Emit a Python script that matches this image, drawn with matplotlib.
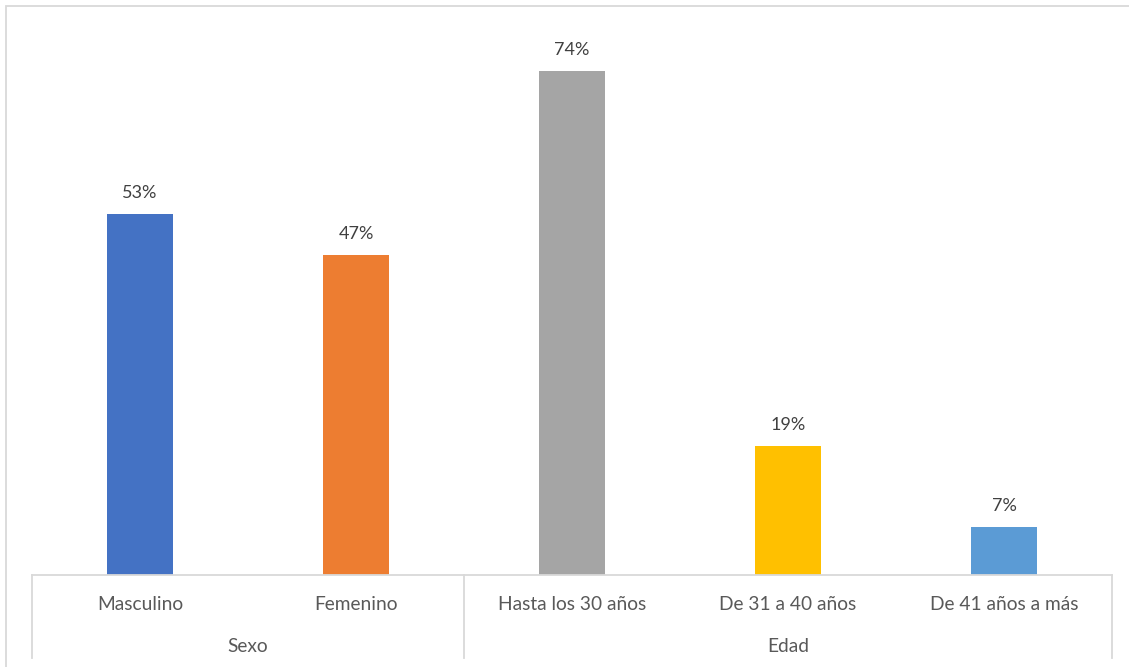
import matplotlib
matplotlib.use("Agg")
import matplotlib.pyplot as plt
from matplotlib.patches import Rectangle

categories = ["Masculino", "Femenino", "Hasta los 30 años", "De 31 a 40 años", "De 41 años a más"]
values = [53, 47, 74, 19, 7]
groups = ["Sexo", "Edad"]
group_sizes = [2, 3]
colors = ["#4472C4", "#ED7D31", "#A5A5A5", "#FFC000", "#5B9BD5"]

W, H = 1129, 667
fig = plt.figure(figsize=(W / 100, H / 100), dpi=100)
plt.rcParams['font.family'] = ['Lato', 'DejaVu Sans']

left_px, right_px = 32, 1112
bottom_px, top_px = 575, 20
ax = fig.add_axes([left_px / W, 1 - bottom_px / H, (right_px - left_px) / W, (bottom_px - top_px) / H])

x = list(range(len(categories)))
bars = ax.bar(x, values, width=0.31, color=colors, zorder=2)
ax.set_xlim(-0.5, len(categories) - 0.5)
ax.set_ylim(0, 74 * (bottom_px - top_px) / (575 - 71))

for s in ["top", "right", "left"]:
    ax.spines[s].set_visible(False)
ax.spines["bottom"].set_color("#D9D9D9")
ax.spines["bottom"].set_linewidth(1.3)
ax.set_yticks([])
ax.set_xticks([])

for xi, v in zip(x, values):
    ax.annotate(f"{v}%", (xi, v), xytext=(0, 15), textcoords="offset points",
                ha="center", va="center", fontsize=13, color="#404040")

trans = ax.get_xaxis_transform()
axis_h = bottom_px - top_px
for xi, c in zip(x, categories):
    ax.text(xi, -30 / axis_h, c, transform=trans, ha="center", va="center",
            fontsize=13.8, color="#595959")

# group labels and separators
bounds = [-0.5]
for n in group_sizes:
    bounds.append(bounds[-1] + n)
ybot = -(658 - bottom_px) / axis_h
for b in bounds:
    ax.plot([b, b], [0, ybot], transform=trans, color="#D9D9D9", lw=1.3, clip_on=False)
for g, a, b in zip(groups, bounds[:-1], bounds[1:]):
    ax.text((a + b) / 2, -72 / axis_h, g, transform=trans, ha="center", va="center",
            fontsize=13.8, color="#595959")

# outer chart border
fig.patches.append(Rectangle((6 / W, -0.1), 1.2, 1 - 5.5 / H + 0.1, transform=fig.transFigure,
                             fill=False, edgecolor="#D9D9D9", lw=1.3))

fig.savefig("out.png", dpi=100)
